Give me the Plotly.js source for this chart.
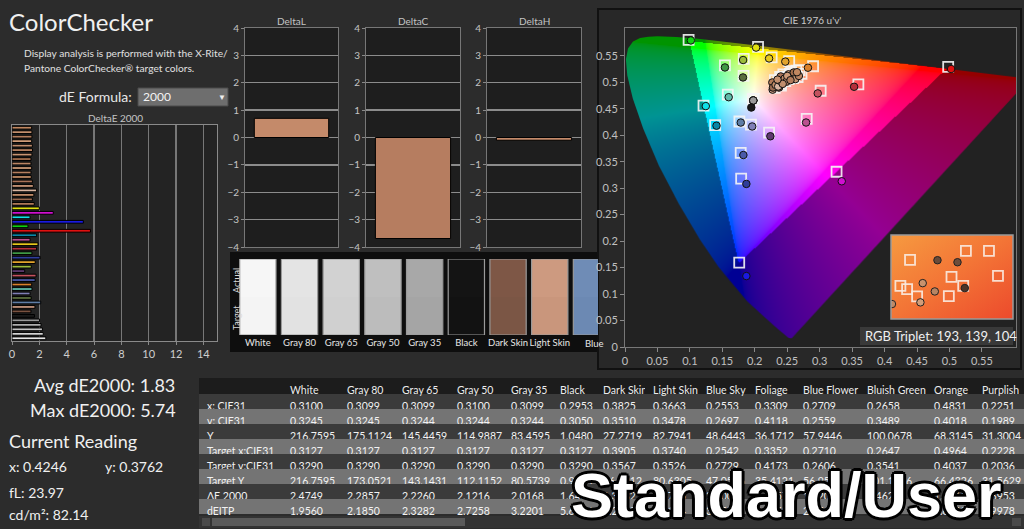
<!DOCTYPE html>
<html><head><meta charset="utf-8">
<script src="https://cdn.plot.ly/plotly-3.0.1.min.js"></script>
<style>html,body{margin:0;padding:0;background:#2c2c2c;}#chart{width:1024px;height:529px;}</style>
</head><body><div id="chart"></div>
<script>
// ---------------- DATA ----------------
const patchNames = ["White","Gray 80","Gray 65","Gray 50","Gray 35","Black","Dark Skin","Light Skin","Blue Sky","Foliage",
  "Blue Flower","Bluish Green","Orange","Purplish Blue","Moderate Red","Purple","Yellow Green","Orange Yellow","Blue","Green",
  "Red","Yellow","Magenta","Cyan","100% Red","100% Green","100% Blue","100% Cyan","100% Magenta","100% Yellow",
  "Skin 1","Skin 2","Skin 3","Skin 4","Skin 5","Skin 6","Skin 7","Skin 8","Skin 9","Skin 10","Skin 11","Skin 12",
  "Skin 13","Skin 14","Skin 15","Skin 16","Skin 17","Skin 18"];
const deltaE = [2.4749,2.2857,2.2260,2.1216,2.0168,1.6432,1.3882,1.6790,2.1004,1.4057,
  1.3205,1.4623,1.4411,1.6953,1.76,0.93,1.41,1.70,2.05,1.46,
  1.80,1.90,1.32,1.80,5.74,1.17,5.22,1.32,3.02,2.00,
  1.63,1.49,1.60,1.80,1.56,1.49,1.41,1.39,1.44,1.39,1.39,1.46,1.50,1.49,1.44,1.46,1.46,1.44];
const patchColors = ["#e6e6e6","#d4d4d4","#c4c4c4","#b0b0b0","#9a9a9a","#1a1a1a","#7a5240","#c4967e","#5f7ea6","#5a6d3e",
  "#7f7fb5","#5fbcaa","#d9802c","#4a5aa8","#c4525e","#5e3a6e","#9cbc3c","#e2a42c","#2f3d9a","#409846",
  "#b4303a","#e6c81c","#bc5090","#0a86a6","#e01010","#10d010","#1a1ae0","#10e0e8","#d010d0","#e0e010",
  "#b07a58","#9a6a50","#c48e6a","#d8b4a0","#c99678","#a87258","#c08a64","#b68060","#cc9a76","#bb8664",
  "#a5704e","#c99572","#b98463","#c08d6d","#cf9c78","#b27c5c","#c4906e","#c08760"];

// CIE 1976 u'v' target (squares) and measured (circles), same order as patchNames
const targetU = [0.1978,0.1978,0.1978,0.1978,0.1978,0.1978,0.2403,0.2307,0.1763,0.1827,
  0.1941,0.1584,0.2898,0.1783,0.3015,0.2220,0.1830,0.2530,0.1790,0.1540,
  0.3596,0.2260,0.2800,0.1390,0.4980,0.0980,0.1760,0.1210,0.3260,0.2050,
  0.231,0.232,0.236,0.240,0.242,0.244,0.250,0.252,0.256,0.261,0.264,0.266,0.272,0.247,0.254,0.259,0.239,0.269];
const targetV = [0.4683,0.4683,0.4683,0.4683,0.4683,0.4683,0.4939,0.4895,0.4259,0.5119,
  0.4199,0.4765,0.5303,0.3667,0.4840,0.4050,0.5440,0.5400,0.3180,0.5320,
  0.4960,0.5470,0.4310,0.4190,0.5290,0.5800,0.1595,0.4560,0.3310,0.5670,
  0.504,0.495,0.500,0.497,0.508,0.515,0.511,0.506,0.519,0.513,0.522,0.510,0.516,0.502,0.516,0.508,0.510,0.523];
const measU = [0.1976,0.1976,0.1976,0.1976,0.1976,0.1946,0.2373,0.2275,0.1784,0.1818,
  0.1960,0.1598,0.2819,0.1824,0.2970,0.2240,0.1820,0.2470,0.1870,0.1540,
  0.3530,0.2220,0.2790,0.1410,0.5025,0.1015,0.1870,0.1245,0.3340,0.2020,
  0.227,0.228,0.232,0.236,0.2385,0.240,0.246,0.2487,0.252,0.257,0.260,0.2625,0.268,0.243,0.250,0.255,0.235,0.265];
const measV = [0.4655,0.4655,0.4656,0.4656,0.4656,0.4523,0.4900,0.4860,0.4239,0.5091,
  0.4165,0.4718,0.5275,0.3626,0.4790,0.3980,0.5420,0.5390,0.3080,0.5280,
  0.4915,0.5450,0.4240,0.4180,0.5250,0.5790,0.1340,0.4550,0.3130,0.5655,
  0.4996,0.490,0.495,0.492,0.503,0.511,0.507,0.501,0.515,0.509,0.5185,0.506,0.512,0.497,0.512,0.504,0.505,0.519];

// spectral locus (u', v') 380..700 nm
const locusU = [0.2568,0.2522,0.2347,0.2161,0.1877,0.1441,0.1147,0.0828,0.0521,0.0282,0.0119,0.0035,0.0014,0.0046,0.0123,0.0231,0.0360,0.0501,0.0792,0.1127,0.1531,0.2026,0.2623,0.3315,0.4035,0.5203,0.5830,0.6234];
const locusV = [0.0166,0.0169,0.0350,0.0549,0.0871,0.1510,0.2044,0.2708,0.3427,0.4117,0.4698,0.5131,0.5432,0.5638,0.5770,0.5837,0.5861,0.5868,0.5856,0.5821,0.5766,0.5694,0.5604,0.5501,0.5393,0.5219,0.5125,0.5065];
const gamutU = [0.496,0.099,0.175];
const gamutV = [0.526,0.578,0.158];

// inset (zoomed skin region), relative coordinates
const insetSqX = [0.156,0.614,0.803,0.496,0.877,0.077,0.132,0.214,0.474,0.592];
const insetSqY = [0.704,0.810,0.810,0.502,0.514,0.395,0.356,0.269,0.273,0.395];
const insetCirX = [0.381,0.545,0.260,0.359,0.241,0.605,0.008];
const insetCirY = [0.700,0.676,0.427,0.328,0.198,0.368,0.178];
const insetCirC = ["#6a4a38","#6e4c3a","#c8926c","#b88462","#d29e7a","#4e3428","#c08a66"];

// selected patch deltas
const selectedPatch = "Skin";
const deltaL = [0.70];
const deltaC = [-3.69];
const deltaH = [-0.10];

// swatches
const swatchNames = ["White","Gray 80","Gray 65","Gray 50","Gray 35","Black","Dark Skin","Light Skin","Blue Sky"];
const swatchActual = ["#f6f6f6","#e4e4e4","#d2d2d2","#bfbfbf","#a8a8a8","#141414","#7e5746","#cd9a80","#6f8cb6"];
const swatchTarget = ["#f4f4f4","#e2e2e2","#d0d0d0","#bcbcbc","#a5a5a5","#121212","#7b5645","#c9967c","#6c89b3"];

// table
const tableCols = ["White","Gray 80","Gray 65","Gray 50","Gray 35","Black","Dark Skin","Light Skin","Blue Sky","Foliage","Blue Flower","Bluish Green","Orange","Purplish"];
const rowLabels = ["x: CIE31","y: CIE31","Y","Target x:CIE31","Target y:CIE31","Target Y","ΔE 2000","dEITP"];
const tabX  = [0.3100,0.3099,0.3099,0.3100,0.3099,0.2953,0.3825,0.3663,0.2553,0.3309,0.2709,0.2658,0.4831,0.2251];
const tabY  = [0.3245,0.3245,0.3244,0.3244,0.3244,0.3050,0.3510,0.3478,0.2697,0.4118,0.2559,0.3489,0.4018,0.1989];
const tabL  = [216.7595,175.1124,145.4459,114.9887,83.4595,1.0480,27.2719,82.7941,48.6443,36.1712,57.9446,100.0678,68.3145,31.3004];
const tabTX = [0.3127,0.3127,0.3127,0.3127,0.3127,0.3127,0.3905,0.3740,0.2542,0.3352,0.2710,0.2647,0.4964,0.2228];
const tabTY = [0.3290,0.3290,0.3290,0.3290,0.3290,0.3290,0.3567,0.3526,0.2729,0.4173,0.2606,0.3541,0.4037,0.2036];
const tabTL = [216.7595,173.0521,143.1431,112.1152,80.5739,0.9844,26.9912,80.6305,47.0566,35.4121,56.9532,101.1456,66.4326,31.5629];
const tabITP= [1.9560,2.1850,2.3282,2.7258,3.2201,5.6794,4.2790,4.5104,3.4552,4.5058,2.5548,3.7187,7.8113,5.9978];

// ---------------- LAYOUT HELPERS ----------------
const W = 1024, H = 529;
const fx = x => x / W, fy = y => 1 - y / H;
const FONT = "Lato, 'Open Sans', sans-serif";
const nb = s => s.replace(/ /g, '\u00a0');

function rect(x0, y0, x1, y1, fill, line, lw, layer) {
  return {type:'rect', xref:'paper', yref:'paper', x0:fx(x0), x1:fx(x1), y0:fy(y1), y1:fy(y0),
    fillcolor: fill || 'rgba(0,0,0,0)', line:{color: line || 'rgba(0,0,0,0)', width: lw || 0}, layer: layer || 'below'};
}
function ann(text, x, y, size, color, opts) {
  return Object.assign({text, x:fx(x), y:fy(y), xref:'paper', yref:'paper', showarrow:false,
    xanchor:'left', yanchor:'middle', font:{family:FONT, size, color: color || '#e8e8e8'}}, opts || {});
}

// ---------------- CIE BACKGROUND IMAGE ----------------
const UMAX = 0.6025, VMAX = 0.6025;
function inTri(u, v) {
  const [ax,bx,cx] = gamutU, [ay,by,cy] = gamutV;
  const d = (by-cy)*(ax-cx)+(cx-bx)*(ay-cy);
  const a = ((by-cy)*(u-cx)+(cx-bx)*(v-cy))/d;
  const b = ((cy-ay)*(u-cx)+(ax-cx)*(v-cy))/d;
  return a>=0 && b>=0 && (1-a-b)>=0;
}
function uvColor(u, v) {
  const d = 6*u - 16*v + 12; const x = 9*u/d, y = 4*v/d;
  const X = x/y, Y = 1, Z = (1-x-y)/y;
  let r = 3.2406*X-1.5372*Y-0.4986*Z, g = -0.9689*X+1.8758*Y+0.0415*Z, b = 0.0557*X-0.2040*Y+1.0570*Z;
  r = Math.max(r,0); g = Math.max(g,0); b = Math.max(b,0);
  const m = Math.max(r,g,b) || 1;
  return [r/m, g/m, b/m].map(c => Math.pow(c, 1/2.2));
}
function locusImage() {
  const w = 392, h = 320;
  const c = document.createElement('canvas'); c.width = w; c.height = h;
  const ctx = c.getContext('2d');
  const img = ctx.createImageData(w, h);
  for (let j = 0; j < h; j++) for (let i = 0; i < w; i++) {
    const u = (i+0.5)/w*UMAX, v = VMAX - (j+0.5)/h*VMAX;
    let col = v > 0.005 ? uvColor(u, v) : [0,0,0];
    const k = inTri(u, v) ? 1.0 : 0.58;
    const p = (j*w+i)*4;
    img.data[p] = col[0]*255*k; img.data[p+1] = col[1]*255*k; img.data[p+2] = col[2]*255*k; img.data[p+3] = 255;
  }
  ctx.putImageData(img, 0, 0);
  ctx.globalCompositeOperation = 'destination-in';
  ctx.beginPath();
  locusU.forEach((u, i) => { const X = u/UMAX*w, Y = (VMAX-locusV[i])/VMAX*h; i ? ctx.lineTo(X,Y) : ctx.moveTo(X,Y); });
  ctx.closePath(); ctx.fillStyle = '#000'; ctx.fill();
  return c.toDataURL();
}
const insetSvg = "data:image/svg+xml;charset=utf-8," + encodeURIComponent(
  "<svg xmlns='http://www.w3.org/2000/svg' width='100' height='100' preserveAspectRatio='none'><defs><linearGradient id='g' x1='0' y1='0' x2='1' y2='1'><stop offset='0' stop-color='#f69a40'/><stop offset='0.5' stop-color='#f37436'/><stop offset='1' stop-color='#ec4a2c'/></linearGradient></defs><rect width='100' height='100' fill='url(#g)'/></svg>");

// ---------------- TRACES ----------------
const traces = [];
traces.push({type:'bar', orientation:'h', x:deltaE, y:patchNames, xaxis:'x', yaxis:'y',
  marker:{color:patchColors, line:{color:'#000', width:1}}, width:0.62, hoverinfo:'skip'});
const barStyle = {color:'#c48a6a', line:{color:'#000', width:1}};
traces.push({type:'bar', x:[selectedPatch], y:deltaL, xaxis:'x2', yaxis:'y2', marker:barStyle, width:0.8, hoverinfo:'skip'});
traces.push({type:'bar', x:[selectedPatch], y:deltaC, xaxis:'x3', yaxis:'y3', marker:{color:'#b67d60', line:{color:'#000', width:1}}, width:0.8, hoverinfo:'skip'});
traces.push({type:'bar', x:[selectedPatch], y:deltaH, xaxis:'x4', yaxis:'y4', marker:barStyle, width:0.8, hoverinfo:'skip'});
// swatches
traces.push({type:'bar', x:swatchNames, y:swatchNames.map(()=>1), base:0, xaxis:'x5', yaxis:'y5', marker:{color:swatchTarget, line:{width:0}}, width:0.87, hoverinfo:'skip'});
traces.push({type:'bar', x:swatchNames, y:swatchNames.map(()=>1), base:1, xaxis:'x5', yaxis:'y5', marker:{color:swatchActual, line:{width:0}}, width:0.87, hoverinfo:'skip'});
traces.push({type:'bar', x:swatchNames, y:swatchNames.map(()=>2), base:0, xaxis:'x5', yaxis:'y5', marker:{color:'rgba(0,0,0,0)', line:{color:'#9a9a9a', width:1.2}}, width:0.87, hoverinfo:'skip'});
// CIE
traces.push({type:'scatter', mode:'markers', x:targetU, y:targetV, xaxis:'x6', yaxis:'y6',
  marker:{symbol:'square-open', size:10, color:'rgba(245,245,245,0.9)', line:{width:1.8}}, hoverinfo:'skip'});
traces.push({type:'scatter', mode:'markers', x:measU, y:measV, xaxis:'x6', yaxis:'y6',
  marker:{symbol:'circle', size:7.5, color:patchColors, line:{color:'#111', width:1}}, hoverinfo:'skip'});
// inset
traces.push({type:'scatter', mode:'markers', x:insetSqX, y:insetSqY, xaxis:'x7', yaxis:'y7',
  marker:{symbol:'square-open', size:10, color:'rgba(250,235,225,0.9)', line:{width:1.8}}, hoverinfo:'skip'});
traces.push({type:'scatter', mode:'markers', x:insetCirX, y:insetCirY, xaxis:'x7', yaxis:'y7',
  marker:{symbol:'circle', size:7.5, color:insetCirC, line:{color:'#222', width:1}}, hoverinfo:'skip', cliponaxis:true});
// table
const f4 = a => a.map(v => v.toFixed(4));
const tableRows = [f4(tabX), f4(tabY), f4(tabL), f4(tabTX), f4(tabTY), f4(tabTL), f4(deltaE.slice(0,14)), f4(tabITP)];
const colValues = [rowLabels.map(nb)].concat(tableCols.map((c, ci) => tableRows.map(r => r[ci])));
const rowFill = rowLabels.map((r, i) => i % 2 === 0 ? '#3b3b3b' : '#747474');
const TFONT = "Lato, 'Noto Sans', sans-serif";
traces.push({type:'table', domain:{x:[fx(199), 1], y:[0, fy(378)]},
  columnwidth:[83,57,55,55,54,49,43,50,53,49,48,64,67,48,50],
  header:{values:[''].concat(tableCols.map(nb)), fill:{color:'#1c1c1c'}, line:{color:'#1c1c1c', width:0},
    font:{family:TFONT, size:10.5, color:'#ececec'}, align:'left', height:16},
  cells:{values:colValues, fill:{color:colValues.map(() => rowFill)}, line:{color:'rgba(0,0,0,0)', width:0},
    font:{family:TFONT, size:10.5, color:'#f2f2f2'}, align:'left', height:15}});

// ---------------- AXES ----------------
const gridAx = {showline:true, mirror:true, linecolor:'#8a8a8a', linewidth:1, zeroline:false, fixedrange:true};
const layout = {
  width:W, height:H, margin:{l:0, r:0, t:0, b:0}, paper_bgcolor:'#2c2c2c', plot_bgcolor:'rgba(0,0,0,0)',
  showlegend:false, barmode:'overlay', font:{family:FONT, color:'#ddd'},
  xaxis:Object.assign({}, gridAx, {domain:[fx(12), fx(217)], range:[0,15], tickvals:[0,2,4,6,8,10,12,14], showgrid:true,
    gridcolor:'#777', gridwidth:1.5, ticks:'outside', ticklen:3, tickcolor:'#888', tickfont:{size:11, color:'#cfcfcf'}, anchor:'y'}),
  yaxis:Object.assign({}, gridAx, {domain:[fy(341), fy(125)], type:'category', categoryorder:'array', categoryarray:patchNames,
    range:[-0.6, 47.6], showticklabels:false, showgrid:false, ticks:'', anchor:'x'}),
  images:[
    {source:locusImage(), xref:'x6', yref:'y6', x:0, y:VMAX, sizex:UMAX, sizey:VMAX, sizing:'stretch', xanchor:'left', yanchor:'top', layer:'below'},
    {source:insetSvg, xref:'x7', yref:'y7', x:0, y:1, sizex:1, sizey:1, sizing:'stretch', xanchor:'left', yanchor:'top', layer:'below'}
  ]
};
[[2,245,338],[3,366,460],[4,487,581]].forEach(([n, a, b]) => {
  layout['xaxis'+n] = Object.assign({}, gridAx, {domain:[fx(a), fx(b)], range:[-0.5,0.5], showticklabels:false, ticks:'', showgrid:false, anchor:'y'+n, linecolor:'#777'});
  layout['yaxis'+n] = Object.assign({}, gridAx, {domain:[fy(247), fy(28)], range:[-4,4], dtick:1, showgrid:true, gridcolor:'#8c8c8c', gridwidth:1.3,
    ticks:'outside', ticklen:3, tickcolor:'#888', tickfont:{size:10, color:'#c4c4c4'}, anchor:'x'+n, linecolor:'#777'});
});
layout.xaxis5 = {domain:[fx(237), fx(598)], range:[-0.5, 8.157], type:'category', anchor:'y5', showgrid:false, zeroline:false, showline:false,
  ticks:'', tickangle:0, tickmode:'array', tickvals:swatchNames.slice(0, 8), ticktext:swatchNames.slice(0, 8),
  tickfont:{size:9.5, color:'#e6e6e6'}, fixedrange:true};
layout.yaxis5 = {domain:[fy(335), fy(259)], range:[0,2], visible:false, anchor:'x5', fixedrange:true};
layout.xaxis6 = Object.assign({}, gridAx, {domain:[fx(625), fx(1016)], range:[0, UMAX], tickvals:[0,0.05,0.1,0.15,0.2,0.25,0.3,0.35,0.4,0.45,0.5,0.55],
  ticktext:['0','0.05','0.1','0.15','0.2','0.25','0.3','0.35','0.4','0.45','0.5','0.55'],
  showgrid:false, ticks:'outside', ticklen:4, tickcolor:'#8a8a8a', tickfont:{size:11, color:'#c0c0c0'}, anchor:'y6', linecolor:'#777'});
layout.yaxis6 = Object.assign({}, gridAx, {domain:[fy(347), fy(28)], range:[0, VMAX], tickvals:[0,0.05,0.1,0.15,0.2,0.25,0.3,0.35,0.4,0.45,0.5,0.55],
  ticktext:['0','0.05','0.1','0.15','0.2','0.25','0.3','0.35','0.4','0.45','0.5','0.55'],
  showgrid:false, ticks:'outside', ticklen:4, tickcolor:'#8a8a8a', tickfont:{size:11, color:'#c0c0c0'}, anchor:'x6', linecolor:'#777'});
layout.xaxis7 = {domain:[fx(891), fx(1013)], range:[0,1], visible:false, anchor:'y7', fixedrange:true};
layout.yaxis7 = {domain:[fy(319), fy(235)], range:[0,1], visible:false, anchor:'x7', fixedrange:true};

// ---------------- SHAPES ----------------
layout.shapes = [
  rect(12,125,217,341,'#232323'),
  rect(245,28,338,247,'#1e1e1e'), rect(366,28,460,247,'#1e1e1e'), rect(487,28,581,247,'#1e1e1e'),
  rect(230,252,598,352,'#0e0e0e'),
  rect(598,9,1021,369,'#282828','#111',2),
  rect(625,28,1016,347,'#222222'),
  rect(138,88,228,106,'#6e6e6e','#4a4a4a',1),
  rect(860,327,1013,345,'#393939',null,0,'above'),
  rect(891,235,1013,319,null,'#9a9a9a',1.5,'above'),
  rect(199,516,1024,528,'#333333'),
  rect(202,518,210,526,'#4a4a4a'),
  rect(212,518,465,526,'#5a5a5a'),
  rect(1012,518,1021,526,'#4a4a4a')
];

// ---------------- TEXT ----------------
const shadow = "-2px -2px 0 #000, 2px -2px 0 #000, -2px 2px 0 #000, 2px 2px 0 #000, 0 3px 0 #000, 3px 0 0 #000, -3px 0 0 #000, 0 -3px 0 #000";
layout.annotations = [
  ann('ColorChecker', 7, 22, 24, '#f0f0f0'),
  ann('Display analysis is performed with the X-Rite/', 22, 53, 10.2, '#e0e0e0'),
  ann('Pantone ColorChecker® target colors.', 22, 68, 10.2, '#e0e0e0'),
  ann('dE Formula:', 134, 97, 14, '#e8e8e8', {xanchor:'right'}),
  ann('2000', 141, 97, 12, '#f4f4f4'),
  ann('▼', 222, 97, 8, '#eeeeee', {xanchor:'center'}),
  ann('DeltaE 2000', 115, 118, 10, '#c4c4c4', {xanchor:'center'}),
  ann('DeltaL', 291, 21, 10, '#c4c4c4', {xanchor:'center'}),
  ann('DeltaC', 413, 21, 10, '#c4c4c4', {xanchor:'center'}),
  ann('DeltaH', 534, 21, 10, '#c4c4c4', {xanchor:'center'}),
  ann('Actual', 236, 281, 9, '#d8d8d8', {xanchor:'center', textangle:-90}),
  ann('Target', 236, 318, 9, '#d8d8d8', {xanchor:'center', textangle:-90}),
  ann('Blue', 583, 343, 9.5, '#e6e6e6'),
  ann("CIE 1976 u'v'", 812, 20, 10, '#c8c8c8', {xanchor:'center'}),
  ann('RGB Triplet: 193, 139, 104', 863, 336, 13, '#f0f0f0'),
  ann('Avg dE2000: 1.83', 32, 385, 18, '#f0f0f0'),
  ann('Max dE2000: 5.74', 28, 410, 18, '#f0f0f0'),
  ann('Current Reading', 7, 441, 18, '#f0f0f0'),
  ann('x: 0.4246', 7, 466, 14, '#f0f0f0'),
  ann('y: 0.3762', 103, 466, 14, '#f0f0f0'),
  ann('fL: 23.97', 7, 492, 14, '#f0f0f0'),
  ann('cd/m²: 82.14', 7, 514, 14, '#f0f0f0'),
  {text:'Standard/User', x:fx(786), y:fy(495), xref:'paper', yref:'paper', showarrow:false, xanchor:'center', yanchor:'middle',
    font:{family:"'Liberation Sans', Arial, sans-serif", size:63, color:'#ffffff', weight:'bold', shadow:shadow}}
];

Plotly.newPlot('chart', traces, layout, {staticPlot:true, displayModeBar:false});
</script>
</body></html>
